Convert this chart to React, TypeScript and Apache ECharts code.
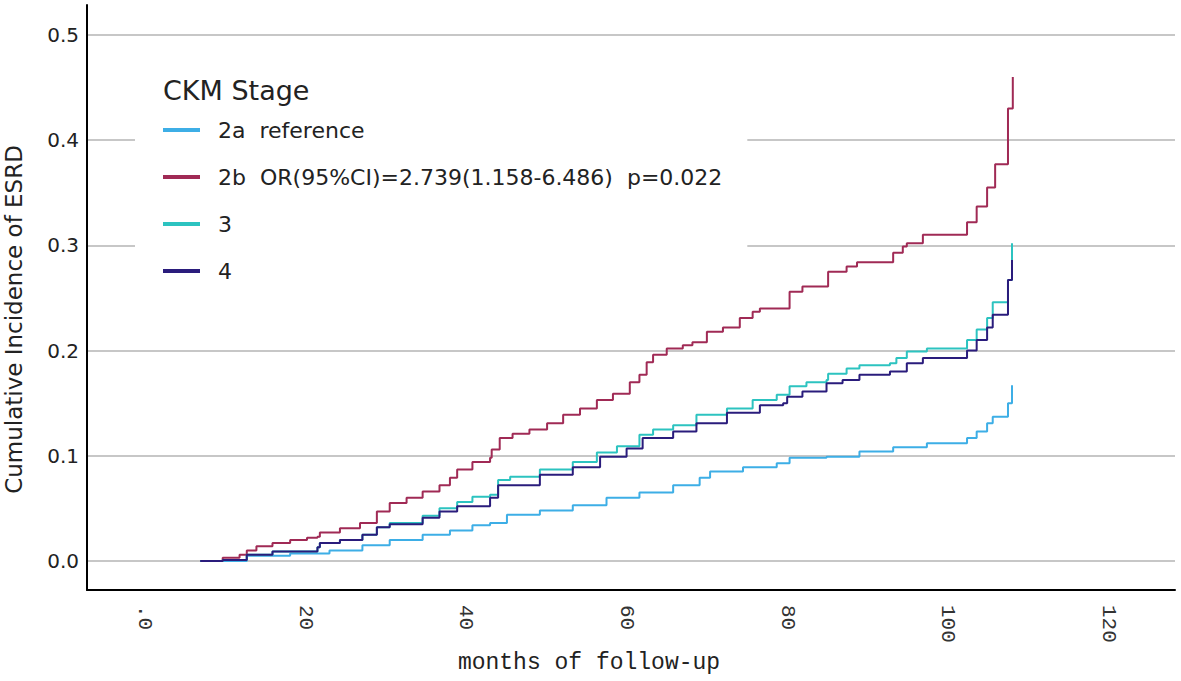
import { useEffect, useRef } from "react";
import * as echarts from "echarts";

// Series names (legend labels)
const seriesNames = [
  "2a  reference",
  "2b  OR(95%CI)=2.739(1.158-6.486)  p=0.022",
  "3",
  "4",
];
const seriesColors = ["#3DAEE6", "#A02A55", "#2CC3C0", "#2A1C7C"];

// Tick values
const xTicks = [0, 20, 40, 60, 80, 100, 120];
const yTicks = [0, 0.1, 0.2, 0.3, 0.4, 0.5];

// 2a reference
const months2a = [6.9, 12.7, 18.1, 23.0, 27.1, 30.5, 34.6, 38.0, 40.8, 43.0, 45.1, 49.2, 53.3, 57.5, 61.6, 65.8, 69.1, 70.4, 74.5, 78.7, 80.3, 84.9, 89.0, 93.2, 97.4, 102.4, 103.6, 104.9, 105.6, 107.5, 108.0];
const values2a = [0, 0.005, 0.007, 0.010, 0.015, 0.020, 0.025, 0.029, 0.034, 0.036, 0.044, 0.048, 0.053, 0.060, 0.065, 0.072, 0.079, 0.085, 0.089, 0.093, 0.098, 0.099, 0.104, 0.108, 0.112, 0.117, 0.123, 0.131, 0.137, 0.150, 0.167];

// 2b
const months2b = [6.9, 9.7, 11.8, 12.7, 13.9, 15.9, 18.1, 20.2, 21.5, 21.8, 24.3, 26.8, 28.9, 30.5, 32.6, 34.6, 36.7, 38.0, 38.9, 40.8, 43.0, 43.2, 44.2, 45.8, 47.9, 50.1, 52.1, 54.2, 56.3, 58.3, 60.4, 61.6, 62.5, 63.3, 65.0, 67.0, 68.2, 70.0, 72.0, 74.1, 75.7, 76.6, 80.3, 81.9, 85.1, 87.4, 88.7, 93.2, 94.4, 94.9, 96.9, 102.4, 103.6, 104.9, 105.9, 107.5, 108.1, 108.1];
const values2b = [0, 0.003, 0.006, 0.010, 0.014, 0.017, 0.020, 0.022, 0.023, 0.027, 0.031, 0.036, 0.047, 0.055, 0.060, 0.066, 0.072, 0.079, 0.087, 0.094, 0.098, 0.106, 0.117, 0.121, 0.125, 0.131, 0.139, 0.145, 0.153, 0.159, 0.170, 0.177, 0.189, 0.196, 0.202, 0.205, 0.208, 0.218, 0.222, 0.231, 0.237, 0.240, 0.256, 0.261, 0.275, 0.280, 0.284, 0.293, 0.299, 0.302, 0.310, 0.322, 0.337, 0.355, 0.377, 0.430, 0.432, 0.460];

// 3
const months3 = [6.9, 9.7, 12.7, 15.9, 21.5, 21.8, 24.3, 27.1, 28.9, 30.5, 34.6, 36.7, 38.9, 40.8, 43.0, 44.0, 45.5, 49.2, 53.3, 56.3, 58.8, 61.6, 63.3, 65.8, 68.7, 72.5, 75.7, 78.7, 80.3, 82.4, 84.9, 85.1, 87.4, 89.0, 92.8, 93.6, 94.9, 97.4, 102.4, 103.6, 104.9, 105.6, 107.5, 108.0];
const values3 = [0, 0.001, 0.006, 0.009, 0.013, 0.017, 0.020, 0.025, 0.032, 0.036, 0.043, 0.050, 0.056, 0.061, 0.063, 0.077, 0.080, 0.087, 0.094, 0.103, 0.109, 0.120, 0.125, 0.129, 0.139, 0.145, 0.153, 0.158, 0.166, 0.170, 0.172, 0.178, 0.183, 0.186, 0.188, 0.193, 0.199, 0.202, 0.210, 0.220, 0.231, 0.246, 0.267, 0.302];

// 4
const months4 = [6.9, 9.7, 12.7, 15.9, 21.5, 21.8, 24.3, 27.1, 28.9, 30.5, 34.6, 36.7, 38.9, 43.0, 44.0, 49.2, 53.3, 56.7, 60.0, 62.0, 65.8, 68.7, 72.5, 76.6, 79.5, 80.0, 81.9, 84.9, 86.9, 89.0, 92.8, 94.9, 96.9, 102.4, 103.6, 104.9, 105.6, 107.5, 108.0];
const values4 = [0, 0.001, 0.006, 0.009, 0.013, 0.017, 0.020, 0.025, 0.032, 0.035, 0.041, 0.047, 0.052, 0.060, 0.072, 0.082, 0.089, 0.099, 0.107, 0.117, 0.123, 0.131, 0.141, 0.148, 0.150, 0.156, 0.161, 0.169, 0.172, 0.177, 0.180, 0.188, 0.193, 0.200, 0.210, 0.222, 0.234, 0.267, 0.286];

const allMonths = [months2a, months2b, months3, months4];
const allValues = [values2a, values2b, values3, values4];

export default function App() {
  const ref = useRef<HTMLDivElement>(null);
  useEffect(() => {
    if (!ref.current) return;
    const chart = echarts.init(ref.current, null, { renderer: "svg" });
    const series = seriesNames.map((name, i) => ({
      name,
      type: "line",
      step: "end",
      showSymbol: false,
      symbol: "none",
      color: seriesColors[i],
      lineStyle: { width: 2, color: seriesColors[i] },
      data: allMonths[i].map((m, j) => [m, allValues[i][j]]),
    }));
    chart.setOption({
      animation: false,
      backgroundColor: "#ffffff",
      textStyle: { fontFamily: "DejaVu Sans" },
      title: {
        text: "CKM Stage",
        left: 158,
        top: 72,
        z: 10,
        textStyle: { fontSize: 27, fontWeight: "normal", color: "#222", fontFamily: "DejaVu Sans" },
      },
      legend: {
        orient: "vertical",
        left: 135,
        top: 62,
        padding: [55, 25, 14, 28],
        backgroundColor: "#ffffff",
        itemWidth: 37,
        itemHeight: 4,
        itemGap: 21,
        icon: "rect",
        selectedMode: false,
        textStyle: { fontSize: 22, color: "#222", fontFamily: "DejaVu Sans", lineHeight: 26, padding: [0, 0, 0, 13] },
        data: seriesNames,
      },
      grid: { left: 87, right: 6, top: 5, bottom: 91, containLabel: false, outerBoundsMode: "none" },
      xAxis: {
        type: "value",
        min: -7.2,
        max: 128.3,
        axisLine: { show: true, onZero: false, lineStyle: { color: "#000", width: 2 } },
        axisTick: { show: false, customValues: xTicks },
        axisLabel: {
          customValues: xTicks,
          rotate: -90,
          margin: 15,
          fontFamily: "Liberation Mono",
          fontSize: 21,
          color: "#333",
          formatter: (v: number) => (v === 0 ? ".0" : String(v)),
        },
        splitLine: { show: false },
        name: "months of follow-up",
        nameLocation: "middle",
        nameGap: 61,
        nameTextStyle: { fontFamily: "Liberation Mono", fontSize: 23, color: "#222", padding: [0, 84, 0, 0] },
      },
      yAxis: {
        type: "value",
        min: -0.0276,
        max: 0.5285,
        axisLine: { show: true, onZero: false, lineStyle: { color: "#000", width: 2 } },
        axisTick: { show: false, customValues: yTicks },
        axisLabel: {
          customValues: yTicks,
          margin: 8,
          fontSize: 20,
          color: "#222",
          fontFamily: "DejaVu Sans",
          formatter: (v: number) => v.toFixed(1),
        },
        splitLine: { show: true, lineStyle: { color: "#B4B4B4", width: 1.5 } },
        name: "Cumulative Incidence of ESRD",
        nameLocation: "middle",
        nameGap: 62,
        nameRotate: 90,
        nameTextStyle: { fontSize: 23, color: "#222", fontFamily: "DejaVu Sans", padding: [0, 44, 0, 0] },
      },
      series,
    });
    return () => chart.dispose();
  }, []);
  return (
    <div
      ref={ref}
      style={{ position: "fixed", left: 0, top: 0, width: 1181, height: 681, background: "#fff" }}
    />
  );
}
